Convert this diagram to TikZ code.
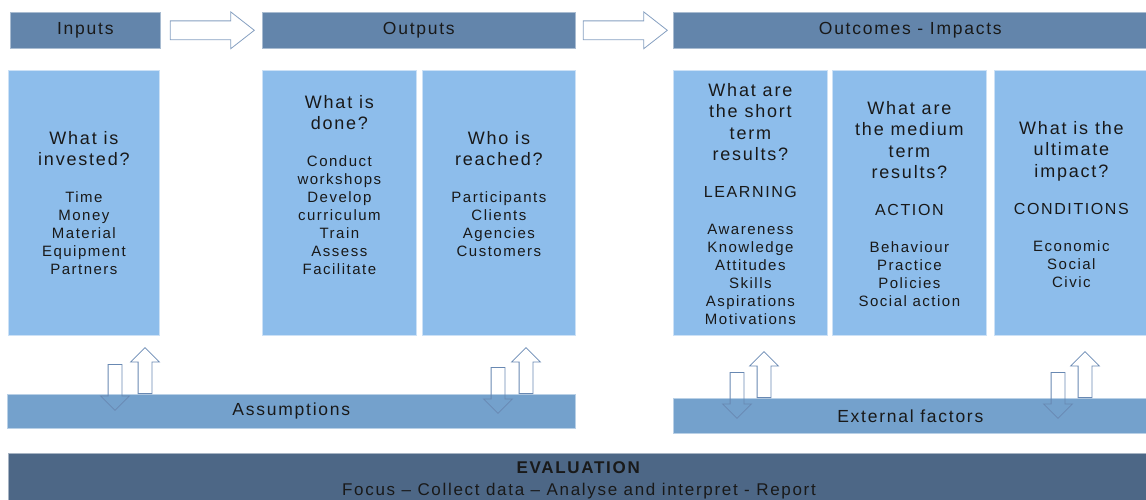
\documentclass[tikz,border=0pt]{standalone}
\usepackage{fontspec}
\setmainfont{Liberation Sans}[LetterSpace=10]
\usetikzlibrary{positioning,calc,shapes.arrows}
\definecolor{colHEAD}{RGB}{99,133,171}
\definecolor{colBOX}{RGB}{141,189,235}
\definecolor{colBAR}{RGB}{116,161,204}
\definecolor{colEVAL}{RGB}{77,103,134}
\definecolor{colARR}{RGB}{104,136,178}
\newcommand{\hdsize}{\fontsize{17.5}{20}\selectfont}
\newcommand{\qsize}{\fontsize{18}{21.5}\selectfont\spaceskip=0.38em\relax}
\newcommand{\csize}{\fontsize{16}{18}\selectfont\spaceskip=0.38em\relax}
\newcommand{\isize}{\fontsize{15}{18}\selectfont\spaceskip=0.38em\relax}
\newcommand{\grp}{\par\vspace{19pt}}

\begin{document}
\begin{tikzpicture}[x=1pt, y=-1pt,
    every node/.style={text=black!90},
    headbox/.style={fill=colHEAD, draw=colHEAD!55!white, line width=0.6pt,
      anchor=north west, minimum height=36pt, inner sep=0pt, font=\hdsize},
    colbox/.style={fill=colBOX, draw=colBOX!45!white, line width=0.8pt,
      anchor=north west, minimum height=265pt, inner sep=0pt},
    bar/.style={fill=colBAR, draw=colBAR!50!white, line width=0.6pt,
      anchor=north west, inner sep=0pt, font=\hdsize},
    coltext/.style={text width=150pt, align=center, inner sep=0pt,
      execute at begin node=\setlength{\parindent}{0pt}},
    blockarr/.style={single arrow, draw=colARR!80!white, fill=white, line width=0.8pt,
      inner sep=9pt, minimum height=84pt, single arrow head extend=9pt,
      single arrow tip angle=76, xshift=-5pt},
    vertarr/.style={single arrow, draw=colARR, line width=0.8pt, anchor=tail,
      inner sep=6.5pt, minimum height=46pt, single arrow head extend=7.5pt}]
  \useasboundingbox (0,0) rectangle (1146,500);

  % header row
  \node[headbox, minimum width=150pt] (inputs) at (10,12) {Inputs};
  \node[headbox, minimum width=313pt] (outputs) at (262,12) {Outputs};
  \node[headbox, minimum width=474pt] (outcomes) at (673,12) {Outcomes - Impacts};
  \node[blockarr] (arr1) at ($(inputs.east)!0.5!(outputs.west)$) {};
  \node[blockarr] (arr2) at ($(outputs.east)!0.5!(outcomes.west)$) {};

  % columns
  \node[colbox, minimum width=151pt] (b1) at (8,70) {};
  \node[colbox, minimum width=154pt] (b2) at (262,70) {};
  \node[colbox, minimum width=153pt] (b3) at (422,70) {};
  \node[colbox, minimum width=154pt] (b4) at (673,70) {};
  \node[colbox, minimum width=154pt] (b5) at (832,70) {};
  \node[colbox, minimum width=160pt] (b6) at (994,70) {};

  \node[coltext, below=61pt of b1.north] (invested) {\qsize What is\\invested?\grp
    \isize Time\\Money\\Material\\Equipment\\Partners\par};
  \node[coltext, below=25pt of b2.north] (done) {\qsize What is\\done?\grp
    \isize Conduct\\workshops\\Develop\\curriculum\\Train\\Assess\\Facilitate\par};
  \node[coltext, below=61pt of b3.north] (reached) {\qsize Who is\\reached?\grp
    \isize Participants\\Clients\\Agencies\\Customers\par};
  \node[coltext, below=13pt of b4.north] (short) {\qsize What are\\the short\\term\\results?\grp
    \csize LEARNING\grp
    \isize Awareness\\Knowledge\\Attitudes\\Skills\\Aspirations\\Motivations\par};
  \node[coltext, below=31pt of b5.north] (medium) {\qsize What are\\the medium\\term\\results?\grp
    \csize ACTION\grp
    \isize Behaviour\\Practice\\Policies\\Social action\par};
  \node[coltext, below=51pt of b6.north, xshift=-3pt] (ultimate) {\qsize What is the\\ultimate\\impact?\grp
    \csize CONDITIONS\grp
    \isize Economic\\Social\\Civic\par};

  % assumptions and external factors
  \node[bar, minimum width=568pt, minimum height=34pt] (assump) at (7,394) {Assumptions};
  \node[bar, minimum width=474pt, minimum height=35pt] (extern) at (673,398) {External factors};

  % two-way arrows
  \node[vertarr, shape border rotate=270] (dnA) at (115,364) {};
  \node[vertarr, shape border rotate=90] (upA) at (145,394) {};
  \node[vertarr, shape border rotate=270] (dnB) at (498,367) {};
  \node[vertarr, shape border rotate=90] (upB) at (526,394) {};
  \node[vertarr, shape border rotate=270] (dnC) at (737,372) {};
  \node[vertarr, shape border rotate=90] (upC) at (764,398) {};
  \node[vertarr, shape border rotate=270] (dnD) at (1058,372) {};
  \node[vertarr, shape border rotate=90] (upD) at (1085,398) {};

  % evaluation
  \fill[colEVAL] (8,453) rectangle (1150,505);
  \draw[colEVAL!50!white, line width=0.6pt] (8,505) -- (8,453) -- (1150,453);
  \node[anchor=north, align=center, inner sep=0pt, font=\fontsize{17}{22}\selectfont] (eval) at (579,461)
    {\textbf{EVALUATION}\\Focus -- Collect data -- Analyse and interpret - Report};
\end{tikzpicture}
\end{document}
